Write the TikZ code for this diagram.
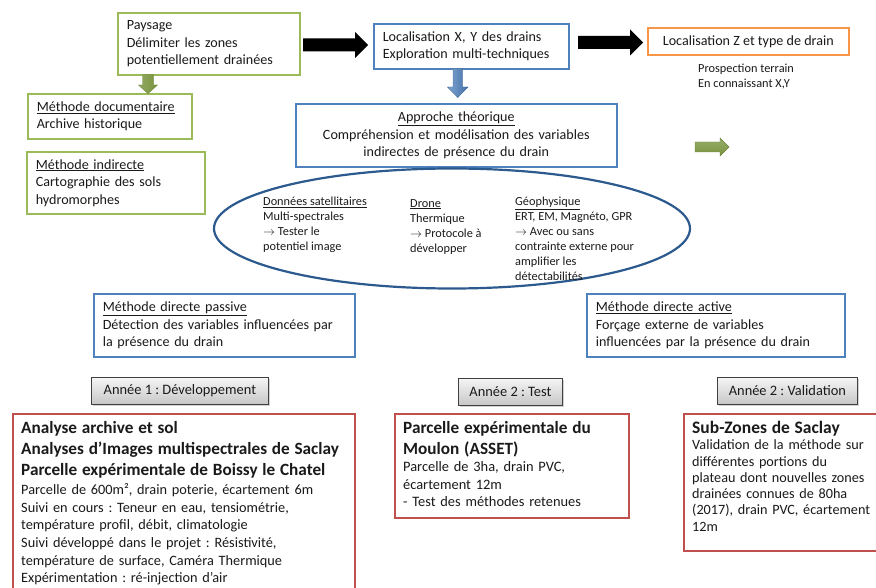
\documentclass[tikz,border=0pt]{standalone}
\usepackage{fontspec}
\setmainfont{Carlito}
\usetikzlibrary{shadows,shapes.geometric}
\definecolor{bxgreen}{HTML}{9BBB59}
\definecolor{bxblue}{HTML}{4F81BD}
\definecolor{bxorange}{HTML}{F79646}
\definecolor{bxred}{HTML}{C0504D}
\definecolor{ellblue}{HTML}{2C5A8E}
\definecolor{argreen}{HTML}{77933C}
\definecolor{arblue}{HTML}{4A7EBB}
\definecolor{txt}{HTML}{1A1A1A}
\begin{document}
\frenchspacing
\begin{tikzpicture}[x=1pt,y=-1pt,
  box/.style={draw, line width=1.6pt, fill=white, anchor=north west, inner xsep=9pt, inner ysep=0pt,
    align=left, font=\fontsize{14.1}{17.5}\selectfont, text=txt},
  frame/.style={draw, line width=1.6pt, fill=white, anchor=north west, inner sep=0pt},
  para/.style={anchor=north west, inner sep=0pt, align=left, text=txt},
  small/.style={font=\fontsize{12.3}{15}\selectfont},
  year/.style={draw=black!75, line width=0.8pt, anchor=north west, inner sep=0pt,
    top color=black!4, bottom color=black!22, drop shadow={opacity=0.35, shadow xshift=1.5pt, shadow yshift=-1.5pt},
    font=\fontsize{14.4}{16}\selectfont, text=txt},
  blk/.style={fill=black},
]
\useasboundingbox (0,0) rectangle (876,588);

% top row
\node[box, draw=bxgreen, minimum width=182pt, minimum height=62pt, text width=164pt] (pay) at (117,12)
  {Paysage\\Délimiter les zones\\potentiellement drainées};
\node[box, draw=bxblue, minimum width=195pt, minimum height=45pt, text width=177pt] (locxy) at (373,23)
  {Localisation X, Y des drains\\Exploration multi-techniques};
\node[draw=bxorange, line width=1.6pt, fill=white, anchor=north west, inner sep=0pt,
  font=\fontsize{14.1}{17.5}\selectfont, text=txt, minimum width=201pt, minimum height=27pt] (locz) at (647,27)
  {Localisation Z et type de drain};
\node[para, small] (prosp) at (698,64) {Prospection terrain\\En connaissant X,Y};

% left boxes
\node[box, draw=bxgreen, minimum width=164pt, minimum height=45pt, text width=146pt] (doc) at (27,93)
  {\underline{Méthode documentaire}\\Archive historique};
\node[box, draw=bxgreen, minimum width=178pt, minimum height=62pt, text width=160pt] (ind) at (26,151)
  {\underline{Méthode indirecte}\\Cartographie des sols\\hydromorphes};

% approche
\node[box, draw=bxblue, minimum width=321pt, minimum height=63pt, text width=303pt, align=center] (appr) at (295,103)
  {\underline{Approche théorique}\\Compréhension et modélisation des variables\\indirectes de présence du drain};

% ellipse
\node[draw=ellblue, line width=2.2pt, ellipse, minimum width=476pt, minimum height=120pt, inner sep=0pt] (ell) at (452,228.5) {};
\node[para, small] (sat) at (263,197)
  {\underline{Données satellitaires}\\Multi-spectrales\\$\rightarrow$ Tester le\\potentiel image};
\node[para, small] (drone) at (410,199)
  {\underline{Drone}\\Thermique\\$\rightarrow$ Protocole à\\développer};
\node[para, small] (geo) at (515,197)
  {\underline{Géophysique}\\ERT, EM, Magnéto, GPR\\$\rightarrow$ Avec ou sans\\contrainte externe pour\\amplifier les\\détectabilités};

% direct methods
\node[box, draw=bxblue, minimum width=261pt, minimum height=63pt, text width=243pt] (pass) at (93,293)
  {\underline{Méthode directe passive}\\Détection des variables influencées par\\la présence du drain};
\node[box, draw=bxblue, minimum width=258pt, minimum height=63pt, text width=240pt] (act) at (586,293)
  {\underline{Méthode directe active}\\Forçage externe de variables\\influencées par la présence du drain};

% year labels
\node[year, minimum width=177pt, minimum height=27pt] (y1) at (91,377) {Année 1 : Développement};
\node[year, minimum width=104pt, minimum height=27pt] (y2) at (458,378) {Année 2 : Test};
\node[year, minimum width=140pt, minimum height=27pt] (y3) at (717,377) {Année 2 : Validation};

% red boxes
\node[frame, draw=bxred, minimum width=342pt, minimum height=190pt] (r1) at (12,413) {};
\node[para, text width=332pt, font=\fontsize{14.3}{17.7}\selectfont] (r1t) at (21,421)
  {{\bfseries\fontsize{17.2}{21}\selectfont Analyse archive et sol\\Analyses d’Images multispectrales de Saclay\\Parcelle expérimentale de Boissy le Chatel\par}
   \vspace{1.5pt}Parcelle de 600m², drain poterie, écartement 6m\\
   Suivi en cours : Teneur en eau, tensiométrie,\\
   température profil, débit, climatologie\\
   Suivi développé dans le projet : Résistivité,\\
   température de surface, Caméra Thermique\\
   Expérimentation : ré-injection d’air};
\node[frame, draw=bxred, minimum width=234pt, minimum height=104pt] (r2) at (394,413) {};
\node[para, text width=224pt, font=\fontsize{14.4}{17.5}\selectfont] (r2t) at (403,421)
  {{\bfseries\fontsize{17.2}{21}\selectfont Parcelle expérimentale du\\Moulon (ASSET)\par}
   Parcelle de 3ha, drain PVC,\\écartement 12m\\- Test des méthodes retenues};
\node[frame, draw=bxred, minimum width=200pt, minimum height=137pt] (r3) at (683,413) {};
\node[para, text width=190pt, font=\fontsize{14.2}{16.3}\selectfont] (r3t) at (692,421)
  {{\bfseries\fontsize{17.5}{19}\selectfont Sub-Zones de Saclay\par}
   Validation de la méthode sur\\différentes portions du\\plateau dont nouvelles zones\\drainées connues de 80ha\\(2017), drain PVC, écartement\\12m};

% block arrows
% black pay -> locxy
\fill[blk] (303,38.5) -- (355,38.5) -- (355,32) -- (368,45) -- (355,58) -- (355,51.5) -- (303,51.5) -- cycle;
% black locxy -> locz
\fill[blk] (578,36) -- (630,36) -- (630,29.5) -- (643,42.5) -- (630,55.5) -- (630,49) -- (578,49) -- cycle;
% green down pay -> doc
\shade[left color=argreen!80!white, right color=argreen, draw=argreen!90!black, line width=0.4pt]
  (142.5,74.5) -- (153.5,74.5) -- (153.5,85) -- (157.5,85) -- (148,93.5) -- (138.5,85) -- (142.5,85) -- cycle;
% blue down locxy -> appr
\shade[left color=arblue!70!white, right color=arblue!90!black, draw=arblue!80!black, line width=0.4pt]
  (453,68.5) -- (462.5,68.5) -- (462.5,87) -- (468,87) -- (457.75,97.5) -- (447.5,87) -- (453,87) -- cycle;
% small green right arrow
\shade[top color=argreen!75!white, bottom color=argreen, draw=argreen!90!black, line width=0.4pt]
  (695,142) -- (720,142) -- (720,138) -- (729,147) -- (720,156) -- (720,152) -- (695,152) -- cycle;
\end{tikzpicture}
\end{document}
